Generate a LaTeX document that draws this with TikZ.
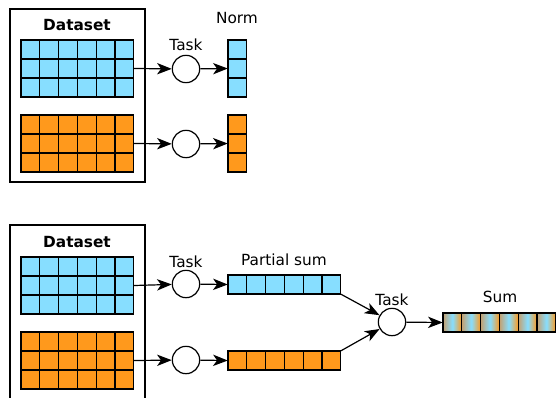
\documentclass[tikz,border=0pt]{standalone}
\usepackage{fontspec}
\setsansfont{DejaVu Sans}
\usetikzlibrary{arrows.meta,fit}

\definecolor{cellblue}{RGB}{135,222,255}
\definecolor{cellorange}{RGB}{255,153,28}
\definecolor{celltan}{RGB}{196,160,112}

\tikzset{
  task/.style={circle, draw, fill=white, line width=0.9pt, minimum size=20.5pt, inner sep=0pt},
  flow/.style={-{Stealth[length=11pt,width=8.5pt,inset=3pt]}, line width=0.9pt},
  caption/.style={font=\sffamily\fontsize{11.5}{13}\selectfont},
  heading/.style={font=\sffamily\bfseries\fontsize{11.5}{13}\selectfont},
  datasetbox/.style={draw, line width=1.6pt},
}

% grid of cells: name, left, top, columns, rows, colour
\newcommand{\cellgrid}[6]{%
  \foreach \c in {1,...,#4}{
    \foreach \r in {1,...,#5}{
      \draw[fill=#6, line width=0.9pt] ({#2+(\c-1)*\cw},{#3+(\r-1)*\ch}) rectangle ++(\cw,\ch);
    }
  }
  \node[fit={(#2,#3) ({#2+#4*\cw},{#3+#5*\ch})}, inner sep=0pt] (#1) {};
}

\begin{document}
\begin{tikzpicture}[x=0.75pt, y=-0.75pt]
  \def\cw{18.8} % cell width
  \def\ch{19}   % cell height

  \clip (0,0) rectangle (556,397);

  % ---- top: norm of each row ----
  \draw[datasetbox] (10,9) rectangle (145,182);
  \node[heading] (dstop) at (77,25) {Dataset};
  \cellgrid{gridA}{21}{40}{6}{3}{cellblue}
  \cellgrid{gridB}{21}{115}{6}{3}{cellorange}

  \node[task] (tA) at (186,69) {};
  \node[task] (tB) at (186,144) {};
  \node[caption] (tasktop) at (186,45) {Task};

  \def\cw{18.2}
  \cellgrid{normA}{228}{40}{1}{3}{cellblue}
  \cellgrid{normB}{228}{115}{1}{3}{cellorange}
  \node[caption] (normlbl) at (237,18) {Norm};

  \draw[flow] (gridA.east) -- (tA);
  \draw[flow] (tA) -- (normA.west);
  \draw[flow] (gridB.east) -- (tB);
  \draw[flow] (tB) -- (normB.west);

  % ---- bottom: partial sums, then total ----
  \def\cw{18.8}
  \draw[datasetbox] (10,225) rectangle (145,410);
  \node[heading] (dsbot) at (77,242) {Dataset};
  \cellgrid{gridC}{21}{257}{6}{3}{cellblue}
  \cellgrid{gridD}{21}{332}{6}{3}{cellorange}

  \node[task] (tC) at (186,284) {};
  \node[task] (tD) at (186,360) {};
  \node[caption] (taskbot) at (186,262) {Task};

  \cellgrid{psumA}{228}{275}{6}{1}{cellblue}
  \cellgrid{psumB}{228}{351}{6}{1}{cellorange}
  \node[caption] (psumlbl) at (284,260) {Partial sum};

  \node[task] (tE) at (392,322) {};
  \node[caption] (tasksum) at (392,300) {Task};

  % total row with mixed colours
  \foreach \c in {1,...,6}{
    \shade[left color=celltan, right color=cellorange, middle color=cellblue]
      ({443+(\c-1)*\cw},313) rectangle ++(\cw,\ch);
    \draw[line width=0.9pt] ({443+(\c-1)*\cw},313) rectangle ++(\cw,\ch);
  }
  \node[fit={(443,313) (556,332)}, inner sep=0pt] (total) {};
  \node[caption] (sumlbl) at (500,297) {Sum};

  \draw[flow] (gridC.east) -- (tC);
  \draw[flow] (tC) -- (psumA.west);
  \draw[flow] (gridD.east) -- (tD);
  \draw[flow] (tD) -- (psumB.west);
  \draw[flow] (psumA.south east) -- (tE);
  \draw[flow] (psumB.north east) -- (tE);
  \draw[flow] (tE) -- (total.west);
\end{tikzpicture}
\end{document}
